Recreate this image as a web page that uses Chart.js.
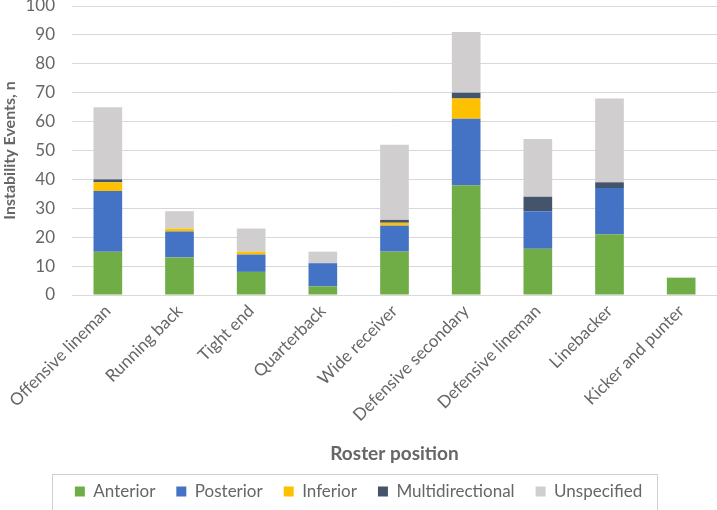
<!DOCTYPE html>
<html>
<head>
<meta charset="utf-8">
<script src="https://cdn.jsdelivr.net/npm/chart.js@4/dist/chart.umd.min.js"></script>
<style>
  html, body { margin: 0; padding: 0; background: #fff; }
  #wrap { width: 717px; height: 510px; }
</style>
</head>
<body>
<div id="wrap"><canvas id="rosterChart"></canvas></div>
<script>
// categories and counts
const positions = ["Offensive lineman", "Running back", "Tight end", "Quarterback", "Wide receiver",
  "Defensive secondary", "Defensive lineman", "Linebacker", "Kicker and punter"];
const anterior         = [15, 13, 8, 3, 15, 38, 16, 21, 6];
const posterior        = [21, 9, 6, 8, 9, 23, 13, 16, 0];
const inferior         = [3, 1, 1, 0, 1, 7, 0, 0, 0];
const multidirectional = [1, 0, 0, 0, 1, 2, 5, 2, 0];
const unspecified      = [25, 6, 8, 4, 26, 21, 20, 29, 0];

const yTicks = [0, 10, 20, 30, 40, 50, 60, 70, 80, 90, 100];

const fontFam = "Lato, 'Open Sans', sans-serif";
const grey = "#666666";

// thin frame round the legend, like the excel one
const legendFrame = {
  id: "legendFrame",
  afterDraw(chart) {
    const lg = chart.legend;
    if (!lg || !lg.legendHitBoxes.length) return;
    const boxes = lg.legendHitBoxes;
    let x0 = Infinity, x1 = -Infinity, yc = 0;
    boxes.forEach(b => {
      x0 = Math.min(x0, b.left); x1 = Math.max(x1, b.left + b.width);
      yc += b.top + b.height / 2;
    });
    yc = yc / boxes.length;
    const ctx = chart.ctx;
    ctx.save();
    ctx.strokeStyle = "#d0d0d0";
    ctx.lineWidth = 1;
    ctx.strokeRect(Math.round(x0 - 23) + 0.5, Math.round(yc - 18) + 0.5, Math.round(x1 - x0 + 38), 36);
    ctx.restore();
  }
};

function ds(label, data, color) {
  return { label: label, data: data, backgroundColor: color, borderWidth: 0 };
}

new Chart(document.getElementById("rosterChart"), {
  type: "bar",
  data: {
    labels: positions,
    datasets: [
      ds("Anterior", anterior, "#70ad47"),
      ds("Posterior", posterior, "#4472c4"),
      ds("Inferior", inferior, "#ffc000"),
      ds("Multidirectional", multidirectional, "#44546a"),
      ds("Unspecified", unspecified, "#d0cece")
    ]
  },
  options: {
    responsive: true,
    maintainAspectRatio: false,
    animation: false,
    categoryPercentage: 1.0,
    barPercentage: 0.4,
    layout: { padding: { left: 0, right: 0, top: 0, bottom: 0 } },
    plugins: {
      legend: {
        position: "bottom",
        labels: {
          boxWidth: 10, boxHeight: 10, padding: 21,
          color: grey,
          font: { family: fontFam, size: 17 }
        }
      },
      tooltip: { enabled: false }
    },
    scales: {
      x: {
        stacked: true,
        grid: { display: false, drawTicks: false },
        border: { color: "#d9d9d9" },
        afterFit: axis => { axis.paddingLeft = 0; axis.paddingRight = 0; axis.height = 167; },
        ticks: {
          color: grey, maxRotation: 45, minRotation: 45, padding: 6,
          font: { family: fontFam, size: 17 }
        },
        title: {
          display: true, text: "Roster position", color: grey, padding: { top: 2, bottom: -3 },
          font: { family: fontFam, size: 19, weight: "bold" }
        }
      },
      y: {
        stacked: true,
        min: 0, max: 100,
        afterBuildTicks: axis => { axis.ticks = yTicks.map(v => ({ value: v })); },
        afterFit: axis => { axis.width = 72; axis.paddingTop = 6; axis.paddingBottom = 0; },
        grid: { color: "#d9d9d9", drawTicks: false },
        border: { display: false },
        ticks: {
          color: grey, padding: 17,
          font: { family: fontFam, size: 17 }
        },
        title: {
          display: true, text: "Instability Events, n", color: grey, padding: { top: 0, bottom: 2 },
          font: { family: fontFam, size: 16, weight: "bold" }
        }
      }
    }
  },
  plugins: [legendFrame]
});
</script>
</body>
</html>
